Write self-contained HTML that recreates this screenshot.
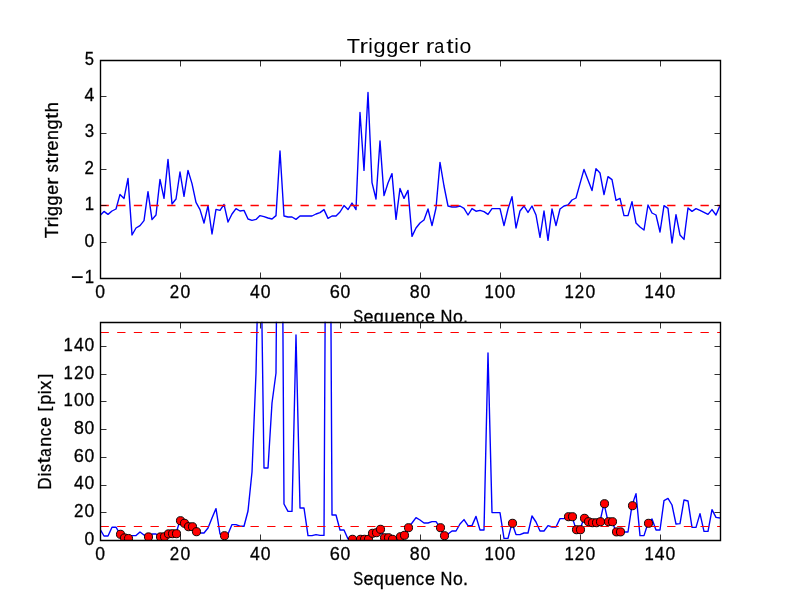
<!DOCTYPE html>
<html><head><meta charset="utf-8"><title>Trigger ratio</title>
<style>html,body{margin:0;padding:0;background:#fff;}svg{display:block;will-change:transform;}text{font-family:"Liberation Sans",sans-serif;fill:#000;}</style></head><body>
<svg width="800" height="600" viewBox="0 0 800 600">
<rect x="0" y="0" width="800" height="600" fill="#ffffff"/>
<defs>
<clipPath id="c1"><rect x="100" y="60" width="620" height="218.2"/></clipPath>
<clipPath id="c2"><rect x="100" y="321.8" width="620" height="218.2"/></clipPath>
</defs>
<text transform="matrix(1.0693 0 0 1.0046 346.711 52.800)" font-size="20.40">T</text><text transform="matrix(1.2561 0 0 0.9840 359.592 52.800)" font-size="20.40">r</text><text transform="matrix(1.0022 0 0 1.0008 368.217 52.800)" font-size="20.40">i</text><text transform="matrix(1.0656 0 0 0.9750 373.447 52.672)" font-size="20.40">g</text><text transform="matrix(1.0656 0 0 0.9750 386.142 52.672)" font-size="20.40">g</text><text transform="matrix(1.0589 0 0 0.9908 398.833 52.875)" font-size="20.40">e</text><text transform="matrix(1.2561 0 0 0.9840 411.066 52.800)" font-size="20.40">r</text><text transform="matrix(1.2561 0 0 0.9840 425.646 52.800)" font-size="20.40">r</text><text transform="matrix(0.8816 0 0 0.9908 434.191 52.875)" font-size="20.40">a</text><text transform="matrix(1.3103 0 0 1.0171 446.142 52.638)" font-size="20.40">t</text><text transform="matrix(1.0022 0 0 1.0008 454.369 52.800)" font-size="20.40">i</text><text transform="matrix(1.0422 0 0 0.9908 459.619 52.875)" font-size="20.40">o</text>
<text transform="matrix(0.7861 0 0 0.9907 353.224 322.566)" font-size="18.90" stroke="#000" stroke-width="0.30">S</text><text transform="matrix(0.9525 0 0 0.9803 363.534 322.568)" font-size="18.90" stroke="#000" stroke-width="0.30">e</text><text transform="matrix(0.9574 0 0 0.9865 373.793 322.631)" font-size="18.90" stroke="#000" stroke-width="0.30">q</text><text transform="matrix(0.9508 0 0 0.9981 384.462 322.565)" font-size="18.90" stroke="#000" stroke-width="0.30">u</text><text transform="matrix(0.9525 0 0 0.9803 394.931 322.568)" font-size="18.90" stroke="#000" stroke-width="0.30">e</text><text transform="matrix(0.9508 0 0 0.9736 405.350 322.500)" font-size="18.90" stroke="#000" stroke-width="0.30">n</text><text transform="matrix(0.8848 0 0 0.9803 415.802 322.568)" font-size="18.90" stroke="#000" stroke-width="0.30">c</text><text transform="matrix(0.9525 0 0 0.9803 424.911 322.568)" font-size="18.90" stroke="#000" stroke-width="0.30">e</text><text transform="matrix(0.8710 0 0 0.9882 440.594 322.500)" font-size="18.90" stroke="#000" stroke-width="0.30">N</text><text transform="matrix(0.9375 0 0 0.9803 452.951 322.568)" font-size="18.90" stroke="#000" stroke-width="0.30">o</text><text transform="matrix(0.9542 0 0 1.0826 463.108 322.500)" font-size="18.90" stroke="#000" stroke-width="0.30">.</text>
<rect x="100" y="60.00" width="620" height="218.18" fill="#ffffff"/>
<g clip-path="url(#c1)" fill="none">
<polyline points="100.0,215.6 104.0,211.4 108.0,214.4 112.0,211.0 116.0,209.0 120.0,194.4 124.0,198.4 128.0,178.4 132.0,235.0 136.0,228.0 140.0,225.6 144.0,220.6 148.0,191.6 152.0,219.6 156.0,215.0 160.0,179.4 164.0,198.4 168.0,159.4 172.0,204.0 176.0,199.0 180.0,172.0 184.0,196.4 188.0,170.4 192.0,183.6 196.0,202.4 200.0,209.6 204.0,223.0 208.0,205.6 212.0,234.0 216.0,209.4 220.0,210.4 224.0,204.4 228.0,222.0 232.0,214.0 236.0,208.6 240.0,211.0 244.0,210.4 248.0,219.0 252.0,220.4 256.0,219.4 260.0,215.6 264.0,216.6 268.0,218.0 272.0,219.0 276.0,215.6 280.0,151.0 284.0,216.0 288.0,217.0 292.0,217.0 296.0,219.4 300.0,216.0 304.0,216.0 308.0,216.0 312.0,216.0 316.0,214.0 320.0,212.6 324.0,209.6 328.0,218.4 332.0,216.0 336.0,216.0 340.0,212.0 344.0,205.6 348.0,209.6 352.0,203.0 356.0,209.6 360.0,112.5 364.0,170.4 368.0,92.5 372.0,182.6 376.0,199.0 380.0,141.0 384.0,195.6 388.0,183.0 392.0,173.6 396.0,219.4 400.0,188.4 404.0,198.4 408.0,190.4 412.0,236.4 416.0,228.0 420.0,223.0 424.0,220.0 428.0,209.0 432.0,225.6 436.0,208.0 440.0,162.4 444.0,186.0 448.0,206.0 452.0,207.0 456.0,207.0 460.0,206.0 464.0,208.4 468.0,215.0 472.0,208.6 476.0,211.2 480.0,210.4 484.0,211.6 488.0,214.4 492.0,208.6 496.0,208.6 500.0,208.6 504.0,225.6 508.0,209.0 512.0,196.6 516.0,228.0 520.0,211.0 524.0,206.0 528.0,212.4 532.0,206.0 536.0,215.0 540.0,237.4 544.0,211.0 548.0,240.4 552.0,209.0 556.0,225.6 560.0,209.0 564.0,206.0 568.0,205.0 572.0,200.0 576.0,198.0 580.0,183.6 584.0,169.4 588.0,180.0 592.0,190.6 596.0,168.6 600.0,173.0 604.0,194.6 608.0,176.6 612.0,179.6 616.0,200.4 620.0,198.4 624.0,215.6 628.0,215.6 632.0,201.6 636.0,223.0 640.0,227.0 644.0,230.0 648.0,205.0 652.0,213.0 656.0,215.0 660.0,232.0 664.0,205.6 668.0,208.4 672.0,243.0 676.0,214.6 680.0,235.0 684.0,239.4 688.0,208.0 692.0,211.4 696.0,208.6 700.0,210.4 704.0,212.4 708.0,214.4 712.0,209.6 716.0,215.0 720.0,205.6" stroke="#0000ff" stroke-width="1.39" stroke-linejoin="round"/>
<line x1="100.5" y1="205.45" x2="720" y2="205.45" stroke="#ff0000" stroke-width="1.39" stroke-dasharray="8.333 8.333"/>
</g>
<g fill="#000" fill-opacity="0.8" shape-rendering="crispEdges">
<rect x="100" y="273" width="1" height="5"/>
<rect x="100" y="272" width="1" height="1" fill-opacity="0.4"/>
<rect x="100" y="61" width="1" height="5"/>
<rect x="100" y="66" width="1" height="1" fill-opacity="0.4"/>
<rect x="180" y="273" width="1" height="5"/>
<rect x="180" y="272" width="1" height="1" fill-opacity="0.4"/>
<rect x="180" y="61" width="1" height="5"/>
<rect x="180" y="66" width="1" height="1" fill-opacity="0.4"/>
<rect x="260" y="273" width="1" height="5"/>
<rect x="260" y="272" width="1" height="1" fill-opacity="0.4"/>
<rect x="260" y="61" width="1" height="5"/>
<rect x="260" y="66" width="1" height="1" fill-opacity="0.4"/>
<rect x="340" y="273" width="1" height="5"/>
<rect x="340" y="272" width="1" height="1" fill-opacity="0.4"/>
<rect x="340" y="61" width="1" height="5"/>
<rect x="340" y="66" width="1" height="1" fill-opacity="0.4"/>
<rect x="420" y="273" width="1" height="5"/>
<rect x="420" y="272" width="1" height="1" fill-opacity="0.4"/>
<rect x="420" y="61" width="1" height="5"/>
<rect x="420" y="66" width="1" height="1" fill-opacity="0.4"/>
<rect x="500" y="273" width="1" height="5"/>
<rect x="500" y="272" width="1" height="1" fill-opacity="0.4"/>
<rect x="500" y="61" width="1" height="5"/>
<rect x="500" y="66" width="1" height="1" fill-opacity="0.4"/>
<rect x="580" y="273" width="1" height="5"/>
<rect x="580" y="272" width="1" height="1" fill-opacity="0.4"/>
<rect x="580" y="61" width="1" height="5"/>
<rect x="580" y="66" width="1" height="1" fill-opacity="0.4"/>
<rect x="660" y="273" width="1" height="5"/>
<rect x="660" y="272" width="1" height="1" fill-opacity="0.4"/>
<rect x="660" y="61" width="1" height="5"/>
<rect x="660" y="66" width="1" height="1" fill-opacity="0.4"/>
</g>
<g fill="#000" fill-opacity="0.8" shape-rendering="crispEdges">
<rect x="101" y="278" width="5" height="1"/>
<rect x="106" y="278" width="1" height="1" fill-opacity="0.4"/>
<rect x="715" y="278" width="5" height="1"/>
<rect x="714" y="278" width="1" height="1" fill-opacity="0.4"/>
<rect x="101" y="242" width="5" height="1"/>
<rect x="106" y="242" width="1" height="1" fill-opacity="0.4"/>
<rect x="715" y="242" width="5" height="1"/>
<rect x="714" y="242" width="1" height="1" fill-opacity="0.4"/>
<rect x="101" y="205" width="5" height="1"/>
<rect x="106" y="205" width="1" height="1" fill-opacity="0.4"/>
<rect x="715" y="205" width="5" height="1"/>
<rect x="714" y="205" width="1" height="1" fill-opacity="0.4"/>
<rect x="101" y="169" width="5" height="1"/>
<rect x="106" y="169" width="1" height="1" fill-opacity="0.4"/>
<rect x="715" y="169" width="5" height="1"/>
<rect x="714" y="169" width="1" height="1" fill-opacity="0.4"/>
<rect x="101" y="133" width="5" height="1"/>
<rect x="106" y="133" width="1" height="1" fill-opacity="0.4"/>
<rect x="715" y="133" width="5" height="1"/>
<rect x="714" y="133" width="1" height="1" fill-opacity="0.4"/>
<rect x="101" y="96" width="5" height="1"/>
<rect x="106" y="96" width="1" height="1" fill-opacity="0.4"/>
<rect x="715" y="96" width="5" height="1"/>
<rect x="714" y="96" width="1" height="1" fill-opacity="0.4"/>
<rect x="101" y="60" width="5" height="1"/>
<rect x="106" y="60" width="1" height="1" fill-opacity="0.4"/>
<rect x="715" y="60" width="5" height="1"/>
<rect x="714" y="60" width="1" height="1" fill-opacity="0.4"/>
</g>
<g stroke="#000" stroke-width="1.39" fill="none" stroke-linecap="square">
<path d="M100.5 60.5 H720.5 V278.5 H100.5 Z"/>
</g>
<text transform="matrix(1.1362 0 0 1.0869 70.938 284.180)" font-size="18.90" stroke="#000" stroke-width="0.30">−</text><text transform="matrix(0.8878 0 0 0.9882 84.749 282.880)" font-size="18.90" stroke="#000" stroke-width="0.30">1</text>
<text transform="matrix(0.9296 0 0 0.9907 84.608 246.583)" font-size="18.90" stroke="#000" stroke-width="0.30">0</text>
<text transform="matrix(0.8878 0 0 0.9882 84.749 210.153)" font-size="18.90" stroke="#000" stroke-width="0.30">1</text>
<text transform="matrix(0.8960 0 0 0.9856 84.565 173.790)" font-size="18.90" stroke="#000" stroke-width="0.30">2</text>
<text transform="matrix(0.8927 0 0 0.9907 84.823 137.493)" font-size="18.90" stroke="#000" stroke-width="0.30">3</text>
<text transform="matrix(0.9297 0 0 0.9882 84.607 101.063)" font-size="18.90" stroke="#000" stroke-width="0.30">4</text>
<text transform="matrix(0.8773 0 0 0.9933 84.818 64.766)" font-size="18.90" stroke="#000" stroke-width="0.30">5</text>
<text transform="matrix(0.9296 0 0 0.9907 95.214 297.666)" font-size="18.90" stroke="#000" stroke-width="0.30">0</text>
<text transform="matrix(0.8960 0 0 0.9856 169.808 297.600)" font-size="18.90" stroke="#000" stroke-width="0.30">2</text><text transform="matrix(0.9296 0 0 0.9907 180.455 297.666)" font-size="18.90" stroke="#000" stroke-width="0.30">0</text>
<text transform="matrix(0.9297 0 0 0.9882 250.053 297.600)" font-size="18.90" stroke="#000" stroke-width="0.30">4</text><text transform="matrix(0.9296 0 0 0.9907 260.659 297.666)" font-size="18.90" stroke="#000" stroke-width="0.30">0</text>
<text transform="matrix(0.9621 0 0 0.9907 329.708 297.666)" font-size="18.90" stroke="#000" stroke-width="0.30">6</text><text transform="matrix(0.9296 0 0 0.9907 340.484 297.666)" font-size="18.90" stroke="#000" stroke-width="0.30">0</text>
<text transform="matrix(0.9396 0 0 0.9907 409.843 297.666)" font-size="18.90" stroke="#000" stroke-width="0.30">8</text><text transform="matrix(0.9296 0 0 0.9907 420.500 297.666)" font-size="18.90" stroke="#000" stroke-width="0.30">0</text>
<text transform="matrix(0.8878 0 0 0.9882 484.385 297.600)" font-size="18.90" stroke="#000" stroke-width="0.30">1</text><text transform="matrix(0.9296 0 0 0.9907 494.848 297.666)" font-size="18.90" stroke="#000" stroke-width="0.30">0</text><text transform="matrix(0.9296 0 0 0.9907 505.452 297.666)" font-size="18.90" stroke="#000" stroke-width="0.30">0</text>
<text transform="matrix(0.8878 0 0 0.9882 564.385 297.600)" font-size="18.90" stroke="#000" stroke-width="0.30">1</text><text transform="matrix(0.8960 0 0 0.9856 574.805 297.600)" font-size="18.90" stroke="#000" stroke-width="0.30">2</text><text transform="matrix(0.9296 0 0 0.9907 585.452 297.666)" font-size="18.90" stroke="#000" stroke-width="0.30">0</text>
<text transform="matrix(0.8878 0 0 0.9882 644.385 297.600)" font-size="18.90" stroke="#000" stroke-width="0.30">1</text><text transform="matrix(0.9297 0 0 0.9882 654.846 297.600)" font-size="18.90" stroke="#000" stroke-width="0.30">4</text><text transform="matrix(0.9296 0 0 0.9907 665.452 297.666)" font-size="18.90" stroke="#000" stroke-width="0.30">0</text>
<g transform="translate(57.9,237.85) rotate(-90)"><text transform="matrix(0.9618 0 0 0.9882 -0.457 0.000)" font-size="18.90" stroke="#000" stroke-width="0.30">T</text><text transform="matrix(1.1299 0 0 0.9736 10.276 0.000)" font-size="18.90" stroke="#000" stroke-width="0.30">r</text><text transform="matrix(0.9014 0 0 0.9997 17.464 0.000)" font-size="18.90" stroke="#000" stroke-width="0.30">i</text><text transform="matrix(0.9584 0 0 0.9884 21.822 0.124)" font-size="18.90" stroke="#000" stroke-width="0.30">g</text><text transform="matrix(0.9584 0 0 0.9884 32.402 0.124)" font-size="18.90" stroke="#000" stroke-width="0.30">g</text><text transform="matrix(0.9525 0 0 0.9803 42.977 0.068)" font-size="18.90" stroke="#000" stroke-width="0.30">e</text><text transform="matrix(1.1299 0 0 0.9736 53.172 0.000)" font-size="18.90" stroke="#000" stroke-width="0.30">r</text><text transform="matrix(0.8453 0 0 0.9829 65.685 0.068)" font-size="18.90" stroke="#000" stroke-width="0.30">s</text><text transform="matrix(1.1786 0 0 1.0029 74.020 -0.148)" font-size="18.90" stroke="#000" stroke-width="0.30">t</text><text transform="matrix(1.1299 0 0 0.9736 80.540 0.000)" font-size="18.90" stroke="#000" stroke-width="0.30">r</text><text transform="matrix(0.9525 0 0 0.9803 87.452 0.068)" font-size="18.90" stroke="#000" stroke-width="0.30">e</text><text transform="matrix(0.9508 0 0 0.9736 97.871 0.000)" font-size="18.90" stroke="#000" stroke-width="0.30">n</text><text transform="matrix(0.9584 0 0 0.9884 108.273 0.124)" font-size="18.90" stroke="#000" stroke-width="0.30">g</text><text transform="matrix(1.1786 0 0 1.0029 118.804 -0.148)" font-size="18.90" stroke="#000" stroke-width="0.30">t</text><text transform="matrix(0.9574 0 0 0.9997 125.487 0.000)" font-size="18.90" stroke="#000" stroke-width="0.30">h</text></g>
<rect x="100" y="321.82" width="620" height="218.18" fill="#ffffff"/>
<g clip-path="url(#c2)" fill="none">
<polyline points="100.0,529.0 104.0,536.0 108.0,536.0 112.0,527.2 116.0,527.2 120.0,534.0 124.0,537.6 128.0,538.2 132.0,535.6 136.0,535.6 140.0,532.0 144.0,535.0 148.0,536.6 152.0,534.0 156.0,534.0 160.0,536.6 164.0,536.4 168.0,533.6 172.0,533.4 176.0,533.4 180.0,520.4 184.0,523.0 188.0,526.4 192.0,526.4 196.0,531.4 200.0,533.0 204.0,533.0 208.0,528.0 212.0,518.0 216.0,508.6 220.0,534.0 224.0,535.4 228.0,534.0 232.0,524.6 236.0,524.6 240.0,526.2 244.0,526.2 248.0,511.0 252.0,472.0 256.0,373.0 260.0,187.0 264.0,468.0 268.0,468.0 272.0,403.0 276.0,373.0 280.0,-150.0 284.0,504.0 288.0,511.4 292.0,511.4 296.0,335.0 300.0,508.0 304.0,508.0 308.0,535.6 312.0,535.6 316.0,534.6 320.0,535.4 324.0,535.4 328.0,-230.0 332.0,515.0 336.0,515.0 340.0,530.0 344.0,530.0 348.0,539.0 352.0,539.0 356.0,539.0 360.0,539.0 364.0,539.0 368.0,539.0 372.0,533.0 376.0,532.4 380.0,529.0 384.0,537.4 388.0,537.4 392.0,539.0 396.0,538.0 400.0,536.4 404.0,535.0 408.0,527.4 412.0,523.0 416.0,517.6 420.0,520.0 424.0,523.0 428.0,523.0 432.0,521.6 436.0,521.6 440.0,527.4 444.0,535.4 448.0,534.0 452.0,531.0 456.0,531.0 460.0,524.0 464.0,519.6 468.0,525.6 472.0,525.6 476.0,516.4 480.0,530.0 484.0,530.0 488.0,353.0 492.0,512.6 496.0,512.6 500.0,512.6 504.0,538.4 508.0,538.4 512.0,523.0 516.0,534.6 520.0,534.6 524.0,533.0 528.0,533.0 532.0,516.0 536.0,522.0 540.0,531.0 544.0,531.0 548.0,525.6 552.0,527.0 556.0,527.0 560.0,518.6 564.0,518.6 568.0,516.4 572.0,516.4 576.0,529.4 580.0,529.4 584.0,518.0 588.0,521.4 592.0,522.4 596.0,522.4 600.0,521.4 604.0,503.4 608.0,521.4 612.0,521.4 616.0,531.6 620.0,531.6 624.0,532.0 628.0,532.0 632.0,505.4 636.0,493.6 640.0,535.6 644.0,535.6 648.0,523.0 652.0,519.0 656.0,530.0 660.0,530.0 664.0,500.6 668.0,498.4 672.0,505.0 676.0,524.0 680.0,523.6 684.0,500.0 688.0,501.0 692.0,527.4 696.0,527.4 700.0,513.6 704.0,531.4 708.0,531.4 712.0,509.6 716.0,517.4 720.0,518.0" stroke="#0000ff" stroke-width="1.39" stroke-linejoin="round"/>
<line x1="100.5" y1="332.5" x2="720" y2="332.5" stroke="#ff0000" stroke-width="1.15" stroke-dasharray="8.333 8.333"/>
<line x1="100.5" y1="526.5" x2="720" y2="526.5" stroke="#ff0000" stroke-width="1.15" stroke-dasharray="8.333 8.333"/>
<g fill="#ff0000" stroke="#000" stroke-width="0.95">
<circle cx="120.5" cy="534.3" r="4.05"/>
<circle cx="124.5" cy="537.9" r="4.05"/>
<circle cx="128.5" cy="538.5" r="4.05"/>
<circle cx="148.5" cy="536.9" r="4.05"/>
<circle cx="160.5" cy="536.9" r="4.05"/>
<circle cx="164.5" cy="536.7" r="4.05"/>
<circle cx="168.5" cy="533.9" r="4.05"/>
<circle cx="172.5" cy="533.7" r="4.05"/>
<circle cx="176.5" cy="533.7" r="4.05"/>
<circle cx="180.5" cy="520.7" r="4.05"/>
<circle cx="184.5" cy="523.3" r="4.05"/>
<circle cx="188.5" cy="526.7" r="4.05"/>
<circle cx="192.5" cy="526.7" r="4.05"/>
<circle cx="196.5" cy="531.7" r="4.05"/>
<circle cx="224.5" cy="535.7" r="4.05"/>
<circle cx="352.5" cy="539.3" r="4.05"/>
<circle cx="360.5" cy="539.3" r="4.05"/>
<circle cx="364.5" cy="539.3" r="4.05"/>
<circle cx="368.5" cy="539.3" r="4.05"/>
<circle cx="372.5" cy="533.3" r="4.05"/>
<circle cx="376.5" cy="532.7" r="4.05"/>
<circle cx="380.5" cy="529.3" r="4.05"/>
<circle cx="384.5" cy="537.7" r="4.05"/>
<circle cx="388.5" cy="537.7" r="4.05"/>
<circle cx="392.5" cy="539.3" r="4.05"/>
<circle cx="400.5" cy="536.7" r="4.05"/>
<circle cx="404.5" cy="535.3" r="4.05"/>
<circle cx="408.5" cy="527.7" r="4.05"/>
<circle cx="440.5" cy="527.7" r="4.05"/>
<circle cx="444.5" cy="535.7" r="4.05"/>
<circle cx="512.5" cy="523.3" r="4.05"/>
<circle cx="568.5" cy="516.7" r="4.05"/>
<circle cx="572.5" cy="516.7" r="4.05"/>
<circle cx="576.5" cy="529.7" r="4.05"/>
<circle cx="580.5" cy="529.7" r="4.05"/>
<circle cx="584.5" cy="518.3" r="4.05"/>
<circle cx="588.5" cy="521.7" r="4.05"/>
<circle cx="592.5" cy="522.7" r="4.05"/>
<circle cx="596.5" cy="522.7" r="4.05"/>
<circle cx="600.5" cy="521.7" r="4.05"/>
<circle cx="604.5" cy="503.7" r="4.05"/>
<circle cx="608.5" cy="521.7" r="4.05"/>
<circle cx="612.5" cy="521.7" r="4.05"/>
<circle cx="616.5" cy="531.9" r="4.05"/>
<circle cx="620.5" cy="531.9" r="4.05"/>
<circle cx="632.5" cy="505.7" r="4.05"/>
<circle cx="648.5" cy="523.3" r="4.05"/>
</g></g>
<g fill="#000" fill-opacity="0.8" shape-rendering="crispEdges">
<rect x="100" y="535" width="1" height="5"/>
<rect x="100" y="534" width="1" height="1" fill-opacity="0.4"/>
<rect x="100" y="323" width="1" height="5"/>
<rect x="100" y="328" width="1" height="1" fill-opacity="0.4"/>
<rect x="180" y="535" width="1" height="5"/>
<rect x="180" y="534" width="1" height="1" fill-opacity="0.4"/>
<rect x="180" y="323" width="1" height="5"/>
<rect x="180" y="328" width="1" height="1" fill-opacity="0.4"/>
<rect x="260" y="535" width="1" height="5"/>
<rect x="260" y="534" width="1" height="1" fill-opacity="0.4"/>
<rect x="260" y="323" width="1" height="5"/>
<rect x="260" y="328" width="1" height="1" fill-opacity="0.4"/>
<rect x="340" y="535" width="1" height="5"/>
<rect x="340" y="534" width="1" height="1" fill-opacity="0.4"/>
<rect x="340" y="323" width="1" height="5"/>
<rect x="340" y="328" width="1" height="1" fill-opacity="0.4"/>
<rect x="420" y="535" width="1" height="5"/>
<rect x="420" y="534" width="1" height="1" fill-opacity="0.4"/>
<rect x="420" y="323" width="1" height="5"/>
<rect x="420" y="328" width="1" height="1" fill-opacity="0.4"/>
<rect x="500" y="535" width="1" height="5"/>
<rect x="500" y="534" width="1" height="1" fill-opacity="0.4"/>
<rect x="500" y="323" width="1" height="5"/>
<rect x="500" y="328" width="1" height="1" fill-opacity="0.4"/>
<rect x="580" y="535" width="1" height="5"/>
<rect x="580" y="534" width="1" height="1" fill-opacity="0.4"/>
<rect x="580" y="323" width="1" height="5"/>
<rect x="580" y="328" width="1" height="1" fill-opacity="0.4"/>
<rect x="660" y="535" width="1" height="5"/>
<rect x="660" y="534" width="1" height="1" fill-opacity="0.4"/>
<rect x="660" y="323" width="1" height="5"/>
<rect x="660" y="328" width="1" height="1" fill-opacity="0.4"/>
</g>
<g fill="#000" fill-opacity="0.8" shape-rendering="crispEdges">
<rect x="101" y="540" width="5" height="1"/>
<rect x="106" y="540" width="1" height="1" fill-opacity="0.4"/>
<rect x="715" y="540" width="5" height="1"/>
<rect x="714" y="540" width="1" height="1" fill-opacity="0.4"/>
<rect x="101" y="512" width="5" height="1"/>
<rect x="106" y="512" width="1" height="1" fill-opacity="0.4"/>
<rect x="715" y="512" width="5" height="1"/>
<rect x="714" y="512" width="1" height="1" fill-opacity="0.4"/>
<rect x="101" y="485" width="5" height="1"/>
<rect x="106" y="485" width="1" height="1" fill-opacity="0.4"/>
<rect x="715" y="485" width="5" height="1"/>
<rect x="714" y="485" width="1" height="1" fill-opacity="0.4"/>
<rect x="101" y="457" width="5" height="1"/>
<rect x="106" y="457" width="1" height="1" fill-opacity="0.4"/>
<rect x="715" y="457" width="5" height="1"/>
<rect x="714" y="457" width="1" height="1" fill-opacity="0.4"/>
<rect x="101" y="429" width="5" height="1"/>
<rect x="106" y="429" width="1" height="1" fill-opacity="0.4"/>
<rect x="715" y="429" width="5" height="1"/>
<rect x="714" y="429" width="1" height="1" fill-opacity="0.4"/>
<rect x="101" y="401" width="5" height="1"/>
<rect x="106" y="401" width="1" height="1" fill-opacity="0.4"/>
<rect x="715" y="401" width="5" height="1"/>
<rect x="714" y="401" width="1" height="1" fill-opacity="0.4"/>
<rect x="101" y="374" width="5" height="1"/>
<rect x="106" y="374" width="1" height="1" fill-opacity="0.4"/>
<rect x="715" y="374" width="5" height="1"/>
<rect x="714" y="374" width="1" height="1" fill-opacity="0.4"/>
<rect x="101" y="346" width="5" height="1"/>
<rect x="106" y="346" width="1" height="1" fill-opacity="0.4"/>
<rect x="715" y="346" width="5" height="1"/>
<rect x="714" y="346" width="1" height="1" fill-opacity="0.4"/>
</g>
<g stroke="#000" stroke-width="1.39" fill="none" stroke-linecap="square">
<path d="M100.5 322.5 H720.5 V540.5 H100.5 Z"/>
</g>
<text transform="matrix(0.9296 0 0 0.9907 84.608 544.866)" font-size="18.90" stroke="#000" stroke-width="0.30">0</text>
<text transform="matrix(0.8960 0 0 0.9856 73.961 517.095)" font-size="18.90" stroke="#000" stroke-width="0.30">2</text><text transform="matrix(0.9296 0 0 0.9907 84.608 517.161)" font-size="18.90" stroke="#000" stroke-width="0.30">0</text>
<text transform="matrix(0.9297 0 0 0.9882 74.003 489.389)" font-size="18.90" stroke="#000" stroke-width="0.30">4</text><text transform="matrix(0.9296 0 0 0.9907 84.608 489.456)" font-size="18.90" stroke="#000" stroke-width="0.30">0</text>
<text transform="matrix(0.9621 0 0 0.9907 73.833 461.750)" font-size="18.90" stroke="#000" stroke-width="0.30">6</text><text transform="matrix(0.9296 0 0 0.9907 84.608 461.750)" font-size="18.90" stroke="#000" stroke-width="0.30">0</text>
<text transform="matrix(0.9396 0 0 0.9907 73.952 434.045)" font-size="18.90" stroke="#000" stroke-width="0.30">8</text><text transform="matrix(0.9296 0 0 0.9907 84.608 434.045)" font-size="18.90" stroke="#000" stroke-width="0.30">0</text>
<text transform="matrix(0.8878 0 0 0.9882 63.541 406.273)" font-size="18.90" stroke="#000" stroke-width="0.30">1</text><text transform="matrix(0.9296 0 0 0.9907 74.005 406.339)" font-size="18.90" stroke="#000" stroke-width="0.30">0</text><text transform="matrix(0.9296 0 0 0.9907 84.608 406.339)" font-size="18.90" stroke="#000" stroke-width="0.30">0</text>
<text transform="matrix(0.8878 0 0 0.9882 63.541 378.568)" font-size="18.90" stroke="#000" stroke-width="0.30">1</text><text transform="matrix(0.8960 0 0 0.9856 73.961 378.568)" font-size="18.90" stroke="#000" stroke-width="0.30">2</text><text transform="matrix(0.9296 0 0 0.9907 84.608 378.634)" font-size="18.90" stroke="#000" stroke-width="0.30">0</text>
<text transform="matrix(0.8878 0 0 0.9882 63.541 350.862)" font-size="18.90" stroke="#000" stroke-width="0.30">1</text><text transform="matrix(0.9297 0 0 0.9882 74.003 350.862)" font-size="18.90" stroke="#000" stroke-width="0.30">4</text><text transform="matrix(0.9296 0 0 0.9907 84.608 350.929)" font-size="18.90" stroke="#000" stroke-width="0.30">0</text>
<text transform="matrix(0.9296 0 0 0.9907 95.214 559.666)" font-size="18.90" stroke="#000" stroke-width="0.30">0</text>
<text transform="matrix(0.8960 0 0 0.9856 169.808 559.600)" font-size="18.90" stroke="#000" stroke-width="0.30">2</text><text transform="matrix(0.9296 0 0 0.9907 180.455 559.666)" font-size="18.90" stroke="#000" stroke-width="0.30">0</text>
<text transform="matrix(0.9297 0 0 0.9882 250.053 559.600)" font-size="18.90" stroke="#000" stroke-width="0.30">4</text><text transform="matrix(0.9296 0 0 0.9907 260.659 559.666)" font-size="18.90" stroke="#000" stroke-width="0.30">0</text>
<text transform="matrix(0.9621 0 0 0.9907 329.708 559.666)" font-size="18.90" stroke="#000" stroke-width="0.30">6</text><text transform="matrix(0.9296 0 0 0.9907 340.484 559.666)" font-size="18.90" stroke="#000" stroke-width="0.30">0</text>
<text transform="matrix(0.9396 0 0 0.9907 409.843 559.666)" font-size="18.90" stroke="#000" stroke-width="0.30">8</text><text transform="matrix(0.9296 0 0 0.9907 420.500 559.666)" font-size="18.90" stroke="#000" stroke-width="0.30">0</text>
<text transform="matrix(0.8878 0 0 0.9882 484.385 559.600)" font-size="18.90" stroke="#000" stroke-width="0.30">1</text><text transform="matrix(0.9296 0 0 0.9907 494.848 559.666)" font-size="18.90" stroke="#000" stroke-width="0.30">0</text><text transform="matrix(0.9296 0 0 0.9907 505.452 559.666)" font-size="18.90" stroke="#000" stroke-width="0.30">0</text>
<text transform="matrix(0.8878 0 0 0.9882 564.385 559.600)" font-size="18.90" stroke="#000" stroke-width="0.30">1</text><text transform="matrix(0.8960 0 0 0.9856 574.805 559.600)" font-size="18.90" stroke="#000" stroke-width="0.30">2</text><text transform="matrix(0.9296 0 0 0.9907 585.452 559.666)" font-size="18.90" stroke="#000" stroke-width="0.30">0</text>
<text transform="matrix(0.8878 0 0 0.9882 644.385 559.600)" font-size="18.90" stroke="#000" stroke-width="0.30">1</text><text transform="matrix(0.9297 0 0 0.9882 654.846 559.600)" font-size="18.90" stroke="#000" stroke-width="0.30">4</text><text transform="matrix(0.9296 0 0 0.9907 665.452 559.666)" font-size="18.90" stroke="#000" stroke-width="0.30">0</text>
<text transform="matrix(0.7861 0 0 0.9907 353.224 584.566)" font-size="18.90" stroke="#000" stroke-width="0.30">S</text><text transform="matrix(0.9525 0 0 0.9803 363.534 584.568)" font-size="18.90" stroke="#000" stroke-width="0.30">e</text><text transform="matrix(0.9574 0 0 0.9865 373.793 584.631)" font-size="18.90" stroke="#000" stroke-width="0.30">q</text><text transform="matrix(0.9508 0 0 0.9981 384.462 584.565)" font-size="18.90" stroke="#000" stroke-width="0.30">u</text><text transform="matrix(0.9525 0 0 0.9803 394.931 584.568)" font-size="18.90" stroke="#000" stroke-width="0.30">e</text><text transform="matrix(0.9508 0 0 0.9736 405.350 584.500)" font-size="18.90" stroke="#000" stroke-width="0.30">n</text><text transform="matrix(0.8848 0 0 0.9803 415.802 584.568)" font-size="18.90" stroke="#000" stroke-width="0.30">c</text><text transform="matrix(0.9525 0 0 0.9803 424.911 584.568)" font-size="18.90" stroke="#000" stroke-width="0.30">e</text><text transform="matrix(0.8710 0 0 0.9882 440.594 584.500)" font-size="18.90" stroke="#000" stroke-width="0.30">N</text><text transform="matrix(0.9375 0 0 0.9803 452.951 584.568)" font-size="18.90" stroke="#000" stroke-width="0.30">o</text><text transform="matrix(0.9542 0 0 1.0826 463.108 584.500)" font-size="18.90" stroke="#000" stroke-width="0.30">.</text>
<g transform="translate(50.6,489.85) rotate(-90)"><text transform="matrix(0.9124 0 0 0.9882 0.221 0.000)" font-size="18.90" stroke="#000" stroke-width="0.30">D</text><text transform="matrix(0.9014 0 0 0.9997 13.265 0.000)" font-size="18.90" stroke="#000" stroke-width="0.30">i</text><text transform="matrix(0.8453 0 0 0.9829 17.923 0.068)" font-size="18.90" stroke="#000" stroke-width="0.30">s</text><text transform="matrix(1.1786 0 0 1.0029 26.258 -0.148)" font-size="18.90" stroke="#000" stroke-width="0.30">t</text><text transform="matrix(0.7930 0 0 0.9803 33.047 0.068)" font-size="18.90" stroke="#000" stroke-width="0.30">a</text><text transform="matrix(0.9508 0 0 0.9736 43.216 0.000)" font-size="18.90" stroke="#000" stroke-width="0.30">n</text><text transform="matrix(0.8848 0 0 0.9803 53.668 0.068)" font-size="18.90" stroke="#000" stroke-width="0.30">c</text><text transform="matrix(0.9525 0 0 0.9803 62.777 0.068)" font-size="18.90" stroke="#000" stroke-width="0.30">e</text><text transform="matrix(0.9187 0 0 0.9205 78.368 -1.084)" font-size="18.90" stroke="#000" stroke-width="0.30">[</text><text transform="matrix(0.9594 0 0 0.9871 85.021 0.129)" font-size="18.90" stroke="#000" stroke-width="0.30">p</text><text transform="matrix(0.9014 0 0 0.9997 95.687 0.000)" font-size="18.90" stroke="#000" stroke-width="0.30">i</text><text transform="matrix(0.9782 0 0 0.9662 100.159 0.000)" font-size="18.90" stroke="#000" stroke-width="0.30">x</text><text transform="matrix(0.9187 0 0 0.9205 111.233 -1.084)" font-size="18.90" stroke="#000" stroke-width="0.30">]</text></g>
</svg></body></html>
